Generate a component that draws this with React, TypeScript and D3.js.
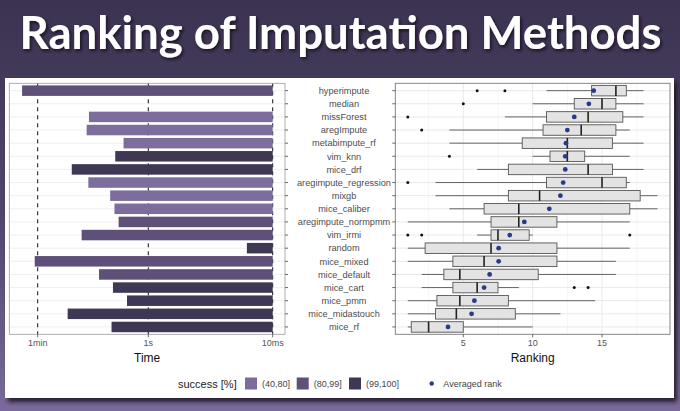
import * as d3 from "d3";

const methods = [
  "hyperimpute", "median", "missForest", "aregImpute", "metabimpute_rf", "vim_knn",
  "mice_drf", "aregimpute_regression", "mixgb", "mice_caliber", "aregimpute_normpmm",
  "vim_irmi", "random", "mice_mixed", "mice_default", "mice_cart", "mice_pmm",
  "mice_midastouch", "mice_rf",
];

// runtime in seconds (null = no bar shown)
const runtime: (number | null)[] = [
  107, null, 9.0, 9.8, 2.5, 3.4, 17, 9.2, 4.1, 3.5, 3.0, 11.8, 0.026, 67, 6.2, 3.7, 2.2, 19.8, 3.9,
];
const success = [
  "(80,99]", "(99,100]", "(40,80]", "(40,80]", "(40,80]", "(99,100]", "(99,100]", "(40,80]",
  "(40,80]", "(40,80]", "(80,99]", "(80,99]", "(99,100]", "(80,99]", "(80,99]", "(99,100]",
  "(99,100]", "(99,100]", "(99,100]",
];
const successLevels = ["(40,80]", "(80,99]", "(99,100]"];
const successColors = ["#7d6d9c", "#5e5079", "#3f3855"];

const timeTicks = [60, 1, 0.01];
const timeTickLabels = ["1min", "1s", "10ms"];

// ranking boxplot stats
const whiskerLow = [11, 10, 8, 4, 4, 10, 6, 3, 3, 4, 1, 6, 1, 1, 2, 2, 1, 1, 1];
const q1 = [14.25, 13, 11, 10.75, 9.25, 11.25, 8.25, 11, 8.25, 6.5, 7, 7, 2.25, 4.25, 3.6, 4.25, 3.1, 3, 1.25];
const median = [16, 15, 14, 13.5, 12.5, 12.5, 14, 15, 10.5, 9, 9, 7.5, 7, 6.5, 4.75, 6, 4.75, 4.5, 2.5];
const q3 = [16.75, 16, 16.5, 16, 15.75, 13.75, 15.75, 16.75, 17.75, 17, 11.75, 9.75, 11.75, 11.75, 10.4, 7.5, 8.25, 8.75, 5];
const whiskerHigh = [18, 18, 18, 17, 18, 17, 18, 17, 19, 19, 17, 10, 17, 16, 16, 9, 14.5, 12, 10];
const meanRank = [14.4, 14.05, 13, 12.5, 12.4, 12.35, 12.35, 12.2, 12, 11.2, 9.4, 8.35, 7.55, 7.55, 6.9, 6.5, 5.8, 5.6, 3.9];
const outliers: number[][] = [
  [6, 8], [5], [1], [2], [], [4], [], [1], [], [], [], [1, 2, 17], [], [], [], [13, 14], [], [], [],
];
const rankTicks = [5, 10, 15];
const rankMinor = [2.5, 7.5, 12.5, 17.5];

const W = 680;
const H = 411;
const top = 83.3;
const bottom = 334.3;
const leftL = 9.3;
const leftR = 285;
const rightL = 395.3;
const rightR = 670;

const sans = "'Liberation Sans', Arial, sans-serif";

export default function App() {
  const y = d3.scalePoint<string>().domain(methods).range([top, bottom]).padding(0.56);
  const step = y.step();
  const barH = step * 0.8;

  const xTime = d3.scaleLog().domain([171.7, 0.00634]).range([leftL, leftR]);
  const xRank = d3.scaleLinear().domain([0.1, 19.9]).range([rightL, rightR]);
  const color = d3.scaleOrdinal<string, string>().domain(successLevels).range(successColors);

  const axisY = bottom + 12;

  return (
    <svg
      width={W}
      height={H}
      viewBox={`0 0 ${W} ${H}`}
      style={{ position: "fixed", left: 0, top: 0 }}
    >
      <defs>
        <linearGradient id="bg" x1="0" y1="0" x2="0" y2="1">
          <stop offset="0%" stopColor="#3b3350" />
          <stop offset="55%" stopColor="#52476e" />
          <stop offset="100%" stopColor="#7a6a9a" />
        </linearGradient>
        <filter id="cardShadow" x="-5%" y="-5%" width="115%" height="115%">
          <feDropShadow dx="3" dy="4" stdDeviation="2" floodColor="#1a1524" floodOpacity="0.9" />
        </filter>
        <filter id="titleShadow" filterUnits="userSpaceOnUse" x="0" y="0" width={W} height="75">
          <feDropShadow dx="1.5" dy="2" stdDeviation="1.5" floodColor="#15101f" floodOpacity="0.9" />
        </filter>
      </defs>

      <rect width={W} height={H} fill="url(#bg)" />

      <text
        x={340.5}
        y={49}
        textAnchor="middle"
        fill="#ffffff"
        fontFamily="Lato, 'Open Sans', sans-serif"
        fontWeight={700}
        fontSize={45.5}
        filter="url(#titleShadow)"
      >
        Ranking of Imputation Methods
      </text>

      <rect x={5} y={78} width={669} height={320} fill="#ffffff" filter="url(#cardShadow)" />

      {/* Left panel: runtime */}
      <g>
        {methods.map((m) => (
          <line key={m} x1={leftL} x2={leftR} y1={y(m)} y2={y(m)} stroke="#ebebeb" strokeWidth={0.8} />
        ))}
        {timeTicks.map((t) => (
          <line
            key={t}
            x1={xTime(t)}
            x2={xTime(t)}
            y1={top}
            y2={bottom}
            stroke="#111"
            strokeWidth={1}
            strokeDasharray="4,4"
          />
        ))}
        {methods.map((m, i) => {
          const t = runtime[i];
          if (t == null) return null;
          const x0 = xTime(t);
          const x1 = xTime(0.01);
          return (
            <rect
              key={m}
              x={x0}
              y={(y(m) as number) - barH / 2}
              width={x1 - x0}
              height={barH}
              fill={color(success[i])}
            />
          );
        })}
        <rect x={leftL} y={top} width={leftR - leftL} height={bottom - top} fill="none" stroke="#9a9a9a" strokeWidth={0.8} />
        {methods.map((m) => (
          <line key={m} x1={leftR} x2={leftR + 3} y1={y(m)} y2={y(m)} stroke="#444" strokeWidth={0.8} />
        ))}
        {timeTicks.map((t, i) => (
          <g key={t}>
            <line x1={xTime(t)} x2={xTime(t)} y1={bottom} y2={bottom + 3} stroke="#444" strokeWidth={0.8} />
            <text
              x={xTime(t)}
              y={axisY}
              textAnchor="middle"
              fontFamily={sans}
              fontSize={9}
              fill="#555"
            >
              {timeTickLabels[i]}
            </text>
          </g>
        ))}
        <text x={(leftL + leftR) / 2} y={bottom + 28} textAnchor="middle" fontFamily={sans} fontSize={12} fill="#111">
          Time
        </text>
      </g>

      {/* Method labels */}
      {methods.map((m) => (
        <text
          key={m}
          x={344}
          y={(y(m) as number) + 3.3}
          textAnchor="middle"
          fontFamily={sans}
          fontSize={9.2}
          fill="#4d4d4d"
        >
          {m}
        </text>
      ))}

      {/* Right panel: ranking */}
      <g>
        {rankMinor.map((r) => (
          <line key={r} x1={xRank(r)} x2={xRank(r)} y1={top} y2={bottom} stroke="#f2f2f2" strokeWidth={0.7} />
        ))}
        {rankTicks.map((r) => (
          <line key={r} x1={xRank(r)} x2={xRank(r)} y1={top} y2={bottom} stroke="#e6e6e6" strokeWidth={0.9} />
        ))}
        {methods.map((m) => (
          <line key={m} x1={rightL} x2={rightR} y1={y(m)} y2={y(m)} stroke="#e6e6e6" strokeWidth={0.9} />
        ))}
        {methods.map((m, i) => {
          const cy = y(m) as number;
          return (
            <g key={m}>
              <line x1={xRank(whiskerLow[i])} x2={xRank(q1[i])} y1={cy} y2={cy} stroke="#555" strokeWidth={0.9} />
              <line x1={xRank(q3[i])} x2={xRank(whiskerHigh[i])} y1={cy} y2={cy} stroke="#555" strokeWidth={0.9} />
              <rect
                x={xRank(q1[i])}
                y={cy - barH / 2}
                width={xRank(q3[i]) - xRank(q1[i])}
                height={barH}
                fill="#e3e3e3"
                stroke="#555"
                strokeWidth={0.9}
              />
              <line
                x1={xRank(median[i])}
                x2={xRank(median[i])}
                y1={cy - barH / 2}
                y2={cy + barH / 2}
                stroke="#222"
                strokeWidth={1.6}
              />
              {outliers[i].map((o, k) => (
                <circle key={k} cx={xRank(o)} cy={cy} r={1.5} fill="#111" />
              ))}
              <circle cx={xRank(meanRank[i])} cy={cy} r={2.4} fill="#283a8a" />
            </g>
          );
        })}
        <rect x={rightL} y={top} width={rightR - rightL} height={bottom - top} fill="none" stroke="#7a7a7a" strokeWidth={0.9} />
        {methods.map((m) => (
          <line key={m} x1={rightL - 3} x2={rightL} y1={y(m)} y2={y(m)} stroke="#444" strokeWidth={0.8} />
        ))}
        {rankTicks.map((r) => (
          <g key={r}>
            <line x1={xRank(r)} x2={xRank(r)} y1={bottom} y2={bottom + 3} stroke="#444" strokeWidth={0.8} />
            <text x={xRank(r)} y={axisY} textAnchor="middle" fontFamily={sans} fontSize={9} fill="#555">
              {r}
            </text>
          </g>
        ))}
        <text x={xRank(10)} y={bottom + 28} textAnchor="middle" fontFamily={sans} fontSize={12} fill="#111">
          Ranking
        </text>
      </g>

      {/* Legend */}
      <g fontFamily={sans}>
        <text x={178} y={387.5} fontSize={11} fill="#222">
          success [%]
        </text>
        {successLevels.map((s, i) => {
          const lx = [245, 296.7, 349][i];
          return (
            <g key={s}>
              <rect x={lx} y={377.5} width={12} height={12} fill={color(s)} />
              <text x={lx + 17} y={387} fontSize={9} fill="#444">
                {s}
              </text>
            </g>
          );
        })}
        <circle cx={431.7} cy={383.5} r={2.2} fill="#283a8a" />
        <text x={443.3} y={387} fontSize={9} fill="#444">
          Averaged rank
        </text>
      </g>
    </svg>
  );
}
